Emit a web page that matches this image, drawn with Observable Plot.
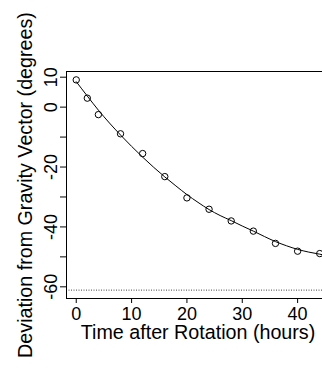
<!DOCTYPE html>
<html>
<head>
<meta charset="utf-8">
<script src="https://cdn.jsdelivr.net/npm/d3@7"></script>
<script src="https://cdn.jsdelivr.net/npm/@observablehq/plot@0.6"></script>
<style>
  html, body { margin: 0; padding: 0; background: #fff; }
  svg { display: block; }
</style>
</head>
<body>
<div id="chart"></div>
<script>
// Observed deviations (points)
const hours = [0, 2, 4, 8, 12, 16, 20, 24, 28, 32, 36, 40, 44];
const deviation = [9.1, 3.0, -2.5, -8.9, -15.5, -23.2, -30.3, -34.1, -38.0, -41.4, -45.5, -48.1, -48.9];

// Fitted curve
const curveHours = [0, 2, 4, 6, 8, 10, 12, 14, 16, 18, 20, 22, 24, 26, 28, 30, 32, 34, 36, 38, 40, 42, 44, 45.8];
const curveDeviation = [8.5, 3.7, -1.0, -5.3, -9.3, -13.1, -16.7, -20.1, -23.3, -26.3, -29.2, -31.8, -34.2, -36.2, -37.9, -39.7, -41.4, -43.2, -44.9, -46.3, -47.5, -48.4, -49.1, -49.7];

// Asymptote (dotted line)
const asymptote = [-61.1];

// Axis ticks
const xTicks = [0, 10, 20, 30, 40];
const yTicks = [-60, -50, -40, -30, -20, -10, 0, 10];
const yLabels = [-60, -40, -20, 0, 10];

const font = "'Liberation Sans', Arial, Helvetica, sans-serif";

const pts = hours.map((h, i) => ({h, v: deviation[i]}));
const crv = curveHours.map((h, i) => ({h, v: curveDeviation[i]}));

const chart = Plot.plot({
  width: 322,
  height: 369,
  marginLeft: 66,
  marginRight: -7,
  marginTop: 71,
  marginBottom: 71,
  style: {fontFamily: font, background: "#fff", color: "#000", overflow: "hidden"},
  x: {domain: [-1.76, 45.76], axis: null},
  y: {domain: [-63.9, 11.9], axis: null},
  marks: [
    Plot.ruleY(asymptote, {stroke: "#444", strokeDasharray: "1,1.5", strokeWidth: 1}),
    Plot.line(crv, {x: "h", y: "v", stroke: "#000", strokeWidth: 1, curve: "monotone-x"}),
    Plot.dot(pts, {x: "h", y: "v", r: 3.2, stroke: "#000", fill: "none", strokeWidth: 1}),
    Plot.frame({stroke: "#000", strokeWidth: 1}),
    Plot.axisX({ticks: xTicks, tickSize: 5, tickFormat: () => "", label: null, stroke: "#000"}),
    Plot.axisY({ticks: yTicks, tickSize: 6, tickFormat: () => "", label: null, stroke: "#000"}),
    Plot.text(xTicks, {x: d => d, frameAnchor: "bottom", dy: 16.2, lineAnchor: "middle", textAnchor: "middle", text: d => String(d), fontSize: 18, fill: "#000"}),
    Plot.text(yLabels, {y: d => d, frameAnchor: "left", dx: -15.5, rotate: -90, lineAnchor: "middle", textAnchor: "middle", text: d => String(d), fontSize: 18, fill: "#000"}),
    Plot.text(["Time after Rotation (hours)"], {frameAnchor: "bottom", dy: 33.7, lineAnchor: "middle", textAnchor: "middle", fontSize: 19.7, fill: "#000"}),
    Plot.text(["Deviation from Gravity Vector (degrees)"], {frameAnchor: "left", dx: -41, rotate: -90, lineAnchor: "middle", textAnchor: "middle", fontSize: 19.7, fill: "#000"})
  ]
});
document.getElementById("chart").appendChild(chart);
</script>
</body>
</html>
